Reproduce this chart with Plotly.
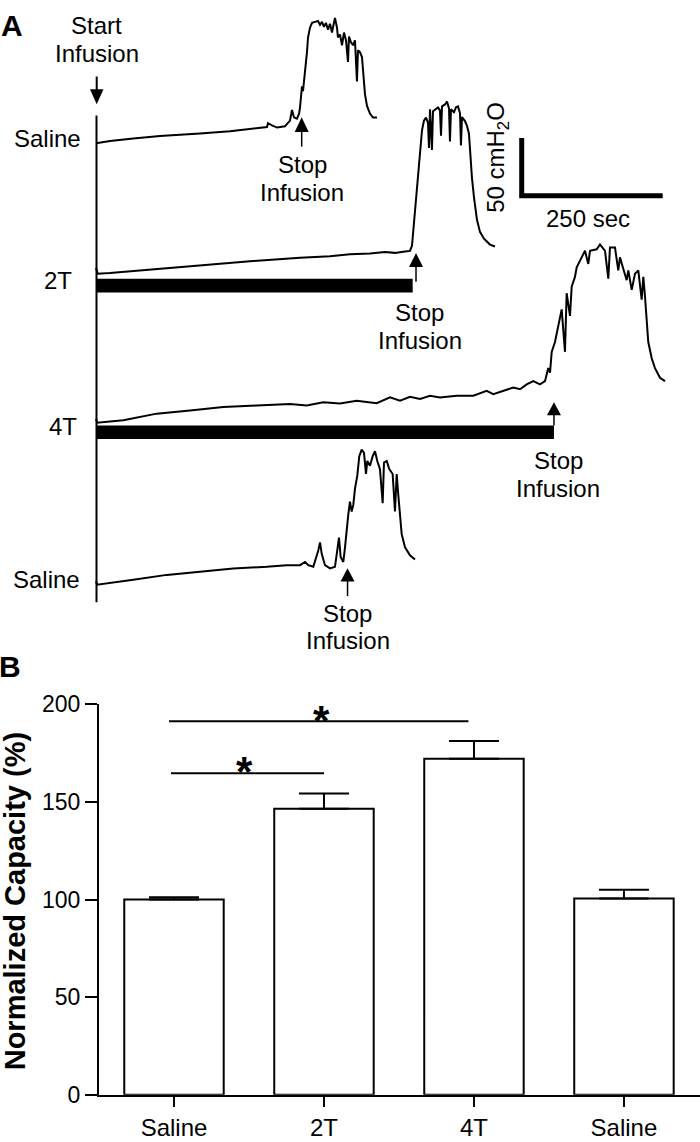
import plotly.graph_objects as go

W, H = 700, 1142
FONT = "Arial, Liberation Sans, sans-serif"

# ---- Panel A: cystometrogram traces (time s, bladder pressure cmH2O) ----
saline1_t = [0, 25, 66, 113.5, 184.4, 237.6, 303.2, 305, 312, 321, 335, 344, 347.5, 351, 356.4,
             360, 361.7, 363.5, 365.2, 367, 368.8, 370.6, 372.3, 374.1, 375.9, 379.4, 383, 388.3,
             393.6, 397.2, 400.7, 404.2, 407.8, 411.3, 414.9, 418.4, 422, 423.7, 427.3, 429, 432.6,
             436.2, 439.7, 443.3, 446.8, 448.6, 452.1, 455.7, 459.2, 462.7, 464.5, 468, 471.6,
             473.4, 476.9, 480.5, 485.8, 491.1, 498.2]
saline1_p = [4, 5.9, 8.2, 10.2, 12.5, 14.4, 18.1, 21.4, 19.5, 17.6, 18.7, 23.7, 32.8, 26.5, 25.4,
             29.7, 35, 44.9, 53.4, 49.1, 60.4, 70.3, 74.6, 83, 95.7, 104.2, 108.4, 109.3,
             110.1, 106.8, 109.3, 105, 108.4, 102.5, 107.6, 100, 110.1, 112.7, 104.2, 95.7, 98.3,
             89, 100, 93.2, 74.6, 96.6, 91.5, 89, 93.2, 57.6, 84.7, 83, 78.8,
             64.4, 46.6, 36.4, 29.7, 26.3, 26.3]

t2_t = [0, 3, 24.8, 95.7, 184.4, 273, 361.7, 414.9, 450.3, 485.8, 512.4, 530.1, 547.9, 556.7,
        560.3, 563.8, 567.4, 570.9, 574.5, 578, 581.5, 585.1, 588.6, 590.4, 592.2, 595.7, 597.5,
        602.8, 606.4, 609.9, 611.7, 613.5, 618.8, 622.3, 625.9, 627.6, 629.4, 634.7, 638.3,
        641.8, 645.4, 647.1, 648.9, 654.2, 657.8, 661.3, 663.1, 666.6, 670.2, 675.5, 680.8,
        687.9, 698.6, 707.4]
t2_p = [9, 4, 4.6, 7.6, 11.4, 14.8, 17.7, 19, 20.7, 21.5, 22.8, 22, 23.2, 23.7,
        28.3, 47.8, 69, 90.1, 111.3, 128.3, 136.7, 139.3, 135, 113, 146.5, 111.3, 144.8,
        146.5, 148.2, 145.6, 123.6, 149, 150.7, 153.2, 147.3, 118.5, 146.5, 143.9, 148.2,
        149, 143.1, 115.2, 139.7, 136.3, 132.1, 125.3, 110.1, 87.1, 70.2, 50.7, 40.2,
        34.3, 29.2, 27.5]

t4_t = [0, 2, 48.4, 107.6, 166.7, 225.7, 284.9, 344, 373.6, 403, 432.6, 462.2, 497.7, 521.3,
        539.1, 556.7, 574.5, 592.2, 609.9, 639.5, 669, 692.7, 704.4, 722.1, 739.9, 751.8, 763.6,
        775.3, 787.2, 796.1, 801.9, 805, 808, 813.8, 819.7, 825.7, 831.5, 834.5, 840.4, 843.4,
        849.2, 852.3, 861.1, 867, 872.8, 875.9, 887.7, 893.6, 902.5, 908.3, 911.3, 920.2, 926,
        929, 934.9, 940.9, 943.8, 949.8, 955.7, 961.5, 967.5, 970.4, 973.4, 976.4, 979.2,
        985.3, 991.1, 1000, 1008.9]
t4_p = [7.5, 4, 6.2, 11.9, 14.7, 17.6, 18.9, 20.3, 18.9, 21.8, 20.8, 23.1, 20.9, 26,
        23.1, 26.5, 24.6, 27.4, 26, 27.4, 27.4, 31.6, 28.8, 31.6, 34.5, 33.1, 37.3,
        40.1, 37.3, 40.1, 51.4, 47.5, 65.5, 74, 88.1, 102.3, 65.5, 116.3, 96.6, 122,
        130.5, 138.9, 147.4, 153.1, 141.7, 153.1, 154.4, 158.7, 153.1, 129, 155.9, 155.9, 136.1,
        147.4, 137.5, 127.7, 136.1, 119.2, 133.3, 136.1, 110.7, 130.5, 113.5, 96.6, 74,
        59.9, 51.4, 43, 40.1]

saline2_t = [0, 2, 66.1, 125.4, 184.4, 243.4, 302.7, 338.1, 361.7, 370.6, 376.4, 385.3, 394.1,
             397.2, 400.2, 406, 414.9, 423.7, 428.5, 430.8, 433.8, 438.5, 441.5, 444.5, 447.3,
             450.3, 453.3, 456.2, 459.2, 463.3, 466.8, 471.1, 475.2, 478.7, 481, 485.8, 490.6,
             494.7, 498.7, 503.5, 508.3, 510.6, 515.4, 520, 526, 530.1, 533.1, 536, 539, 542,
             547.9, 556.7, 565.6]
saline2_p = [7, 4, 8.2, 12.5, 15.3, 18.1, 19.5, 20.9, 20.9, 23.7, 20.9, 19.5, 33.6,
             40.7, 30.8, 20.9, 18.1, 19.5, 36.4, 44.9, 28, 23.7, 36.4, 53.4, 64.7,
             76, 67.5, 73.2, 87.3, 98.6, 115.5, 121.1, 118.3, 100, 111.3, 107.1, 115.5,
             119.8, 111.3, 104.2, 74.6, 109.9, 111.3, 104.2, 100, 67.5, 100, 81.7, 61.9, 47.8,
             36.4, 29.4, 25.8]

trace_labels = ["Saline", "2T", "4T", "Saline"]
stop_times = [364.7, 567.4, 812, 446]      # s, end of infusion
infusion_2t = 561.5                         # s, 2T infusion bar
infusion_4t = 812                           # s, 4T infusion bar
scale_s, scale_cm = 250, 50

# ---- Panel B: normalized capacity ----
groups = ["Saline", "2T", "4T", "Saline"]
capacity = [100, 146.5, 172.2, 100.5]
capacity_sem = [1.2, 7.8, 9.0, 4.5]

# panel A geometry (pixel scale of the recording)
PX_PER_S = 0.564
PX_PER_CM = 1.18
A_X0 = 96          # pixel column of t = 0
A_BOTTOM = 650     # pixel row of panel A bottom


def pxx(x):
    return x / W


def pxy(y):
    return 1 - y / H


def a_y(row):
    return (A_BOTTOM - row) / PX_PER_CM


fig = go.Figure()

traces = [(saline1_t, saline1_p, 133.3), (t2_t, t2_p, 266.7),
          (t4_t, t4_p, 419.3), (saline2_t, saline2_p, 585)]
for t, p, base_row in traces:
    off = a_y(base_row) - 4
    fig.add_trace(go.Scatter(
        x=t, y=[v + off for v in p], mode="lines",
        line=dict(color="black", width=2),
        xaxis="x2", yaxis="y2", showlegend=False, hoverinfo="skip",
    ))

fig.add_trace(go.Bar(
    x=[0, 1, 2, 3], y=capacity, width=0.663,
    marker=dict(color="white", line=dict(color="black", width=2)),
    error_y=dict(type="data", array=capacity_sem, arrayminus=[0] * 4, symmetric=False,
                 color="black", thickness=2, width=25),
    showlegend=False,
))

shapes = []
line_k = dict(color="black", width=2)

# start infusion line and arrow
shapes.append(dict(type="line", xref="paper", yref="paper", x0=pxx(96.5), x1=pxx(96.5),
                   y0=pxy(105), y1=pxy(603), line=line_k))
shapes.append(dict(type="line", xref="paper", yref="paper", x0=pxx(96.7), x1=pxx(96.7),
                   y0=pxy(65), y1=pxy(80), line=line_k))
shapes.append(dict(type="path", xref="paper", yref="paper",
                   path=f"M {pxx(90)},{pxy(78)} L {pxx(103.5)},{pxy(78)} L {pxx(96.7)},{pxy(93.5)} Z",
                   fillcolor="black", line=dict(width=0)))

# stop infusion arrows
arrow_rows = [(106.7, 121.7, 136.7), (245.7, 260, 275), (398.3, 411.7, 422), (568.3, 581.7, 596.7)]
hw = 7 / PX_PER_S
for ts, (tip, hb, end) in zip(stop_times, arrow_rows):
    shapes.append(dict(type="line", xref="x2", yref="paper", x0=ts, x1=ts,
                       y0=pxy(hb - 1), y1=pxy(end), line=dict(color="black", width=1.5)))
    shapes.append(dict(type="path", xref="x2", yref="paper",
                       path=f"M {ts - hw},{pxy(hb)} L {ts + hw},{pxy(hb)} L {ts},{pxy(tip)} Z",
                       fillcolor="black", line=dict(width=0)))

# infusion bars
for dur, (r0, r1) in [(infusion_2t, (272, 286)), (infusion_4t, (422, 436))]:
    shapes.append(dict(type="rect", xref="x2", yref="paper", x0=0, x1=dur,
                       y0=pxy(r1), y1=pxy(r0), fillcolor="black", line=dict(width=0)))

# scale bar
sx0, sy0 = (521.7 - A_X0) / PX_PER_S, a_y(187)
shapes.append(dict(type="path", xref="x2", yref="y2",
                   path=f"M {sx0},{sy0 + scale_cm} L {sx0},{sy0} L {sx0 + scale_s},{sy0}",
                   line=dict(color="black", width=5)))

# significance lines
shapes.append(dict(type="line", xref="x", yref="y", x0=-0.033, x1=1.963, y0=191.3, y1=191.3,
                   line=line_k))
shapes.append(dict(type="line", xref="x", yref="y", x0=-0.02, x1=1.0, y0=164.7, y1=164.7,
                   line=line_k))

ann = []


def text(x, y, s, size=24, bold=False, angle=0):
    ann.append(dict(x=pxx(x), y=pxy(y), xref="paper", yref="paper", text=f"<b>{s}</b>" if bold else s,
                    showarrow=False, xanchor="center", yanchor="middle", textangle=angle,
                    font=dict(family=FONT, size=size, color="black")))


text(11.5, 13, "A", size=30, bold=True)
text(10, 669, "B", size=30, bold=True)
text(96.7, 13.3, "Start")
text(97, 41.7, "Infusion")
for lab, (x, y) in zip(trace_labels, [(47.5, 128.3), (58, 273.3), (62.5, 423.3), (46, 580)]):
    text(x, y, lab)
for x, y in [(302, 155), (419.6, 306.7), (558, 458), (347.5, 614)]:
    text(x, y, "Stop")
    text(x, y + 28.5, "Infusion")
text(496.7, 147.5, "50 cmH<sub>2</sub>O", angle=-90)
text(588, 210, "250 sec")
text(321, 724, "*", size=42, bold=True)
text(245, 776, "*", size=42, bold=True)
text(15, 909, "Normalized Capacity (%)", size=29, bold=True, angle=-90)

axis_style = dict(showline=True, linecolor="black", linewidth=2, ticks="outside",
                  tickcolor="black", tickwidth=2, showgrid=False, zeroline=False)

fig.update_layout(
    width=W, height=H,
    margin=dict(l=0, r=0, t=0, b=0),
    paper_bgcolor="white", plot_bgcolor="white",
    font=dict(family=FONT, color="black"),
    showlegend=False,
    xaxis=dict(domain=[99 / W, 1], range=[-0.5, 3.507], tickvals=[0, 1, 2, 3], ticktext=groups,
               ticklen=10, tickfont=dict(size=24), anchor="y", **axis_style),
    yaxis=dict(domain=[pxy(1107), pxy(707.5)], range=[0, 200], tickvals=[0, 50, 100, 150, 200],
               ticklen=12, tickfont=dict(size=23), anchor="x", **axis_style),
    xaxis2=dict(domain=[0, 1], range=[-A_X0 / PX_PER_S, (W - A_X0) / PX_PER_S], visible=False,
                anchor="y2"),
    yaxis2=dict(domain=[pxy(A_BOTTOM), 1], range=[0, A_BOTTOM / PX_PER_CM], visible=False,
                anchor="x2"),
    shapes=shapes,
    annotations=ann,
)

# drop the default 8px page margin so the 700x1142 figure fills the window
fig.write_html("out.html", config={"displayModeBar": False},
               post_script="document.body.style.margin='0';")
